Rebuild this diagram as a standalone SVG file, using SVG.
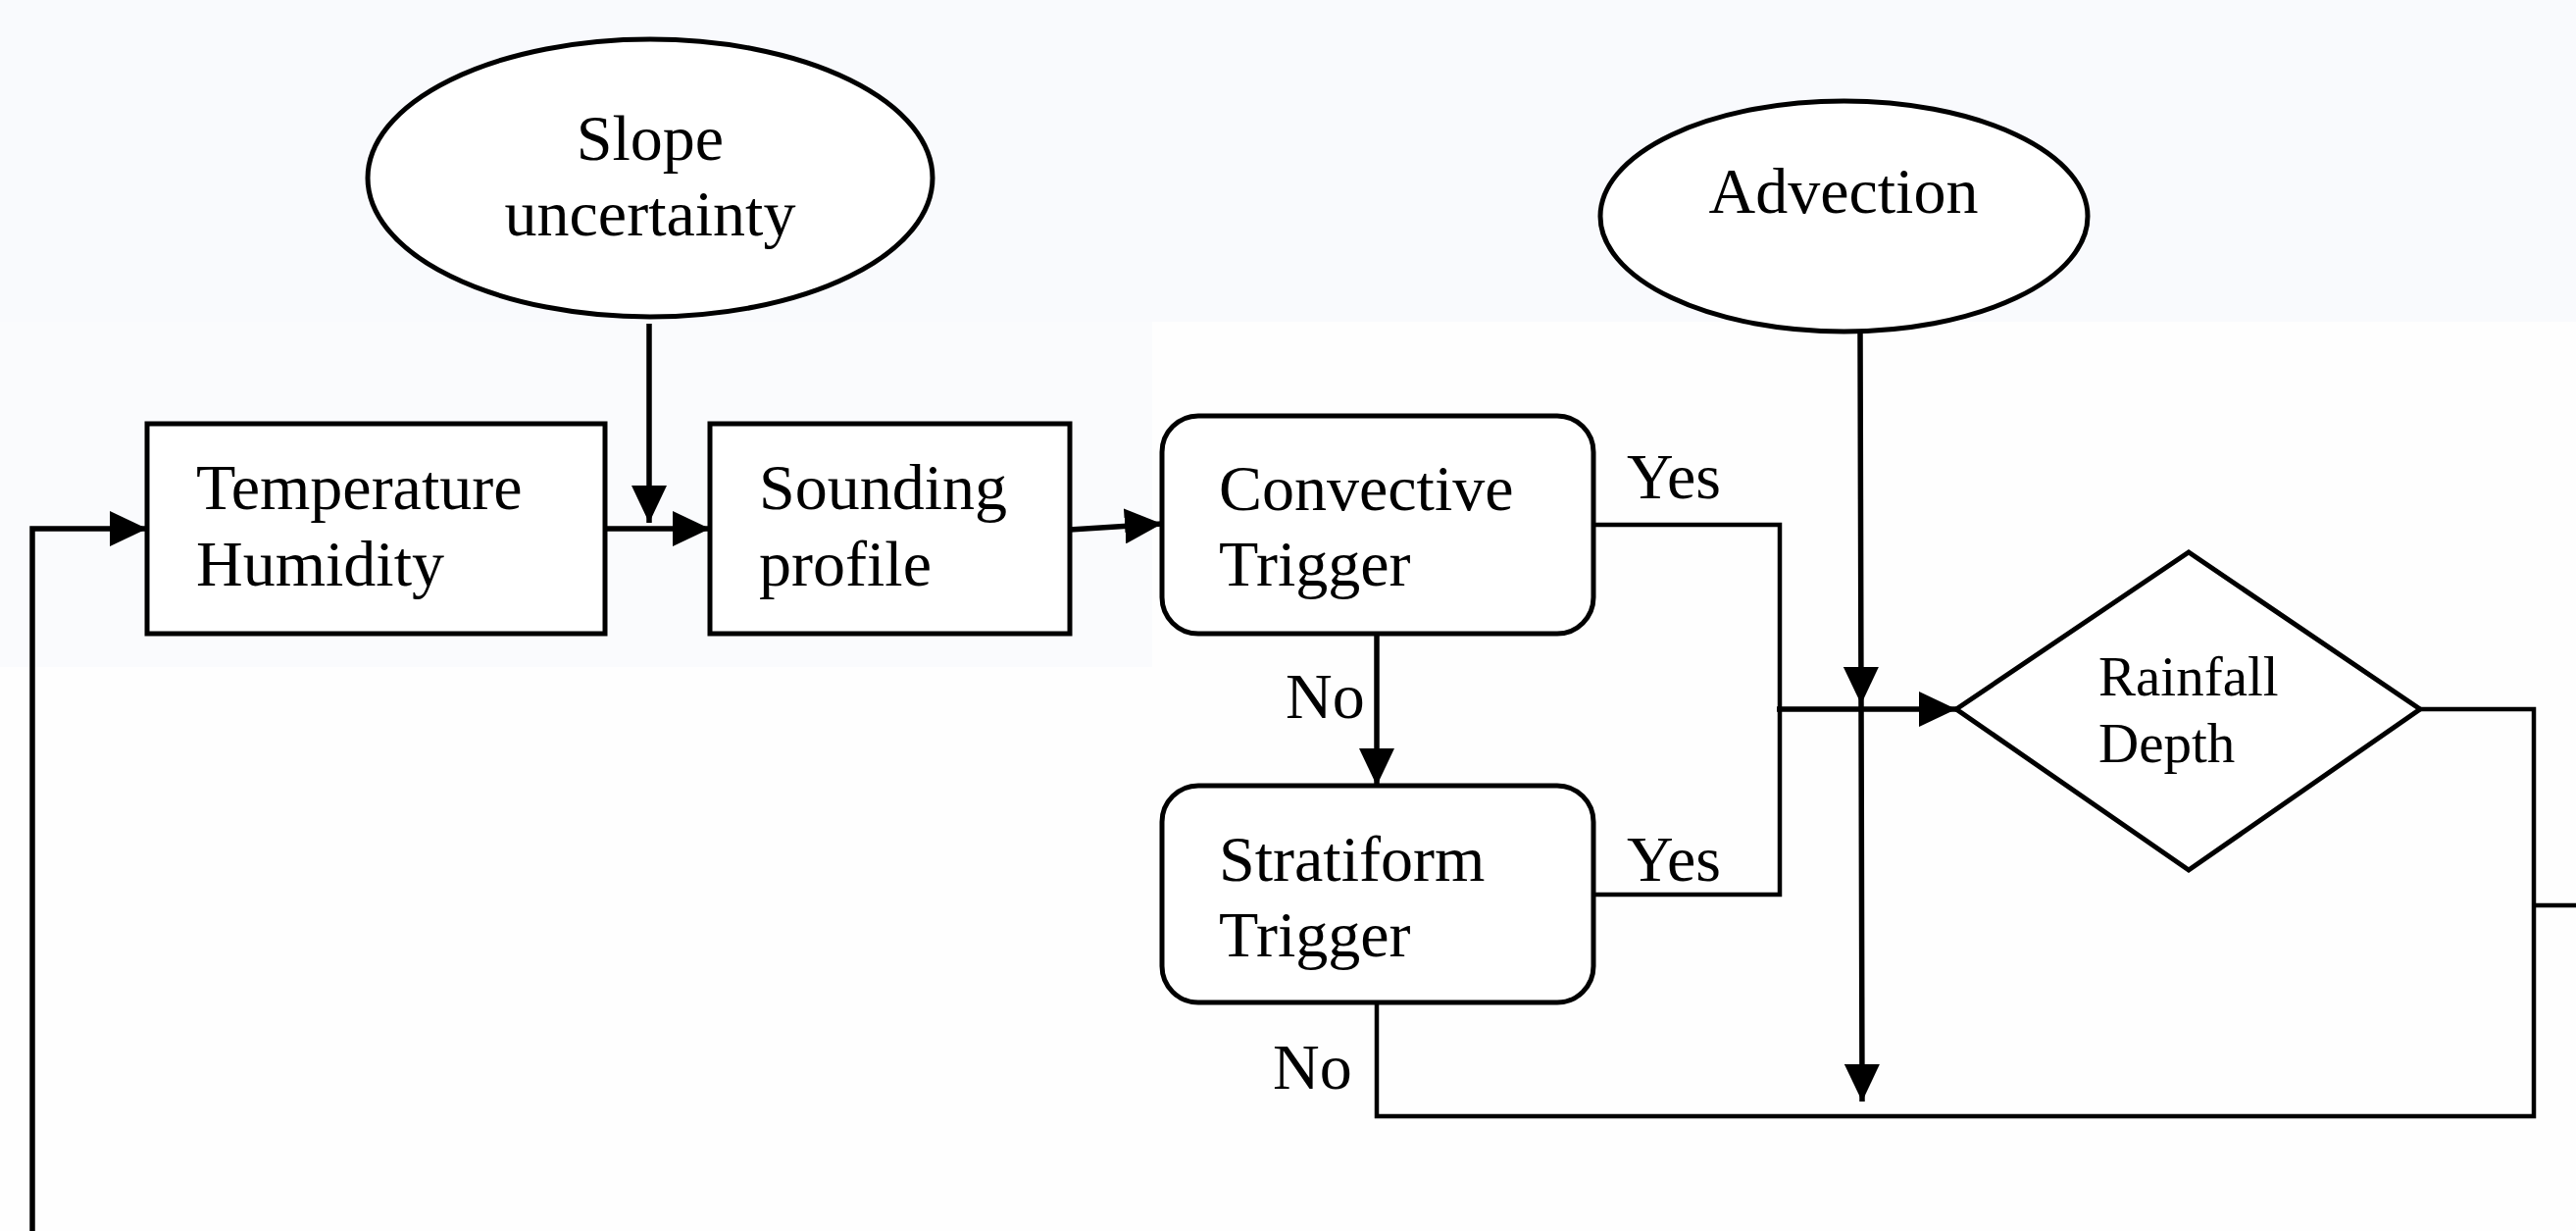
<svg xmlns="http://www.w3.org/2000/svg" width="2627" height="1255" viewBox="0 0 2627 1255">
<style>
.shape{fill:#ffffff;stroke:#000;stroke-width:5}
.t{font-family:"Liberation Serif","Times New Roman",serif;font-size:66px;fill:#000}
.ts{font-family:"Liberation Serif","Times New Roman",serif;font-size:57px;fill:#000}
.c{fill:none;stroke:#000;stroke-width:4.5;stroke-linejoin:miter}
.a{fill:none;stroke:#000;stroke-width:5.5}
</style>
<defs>
<marker id="arr" markerUnits="userSpaceOnUse" markerWidth="38" markerHeight="36" refX="38" refY="18" orient="auto">
<path d="M0,0 L38,18 L0,36 Z" fill="#000"/>
</marker>
</defs>
<rect x="0" y="0" width="2627" height="1255" fill="#fefefe"/>
<rect x="0" y="0" width="2627" height="328" fill="#f9fafd"/>
<rect x="0" y="328" width="1175" height="352" fill="#fafbfd"/>

<g id="connectors">
<path class="a" d="M33,1255 L33,539 L150,539" marker-end="url(#arr)"/>
<path class="a" d="M617,539 L724,539" marker-end="url(#arr)"/>
<path class="a" d="M662,330 L662,533" marker-end="url(#arr)"/>
<path class="a" d="M1091,540 L1185,534" marker-end="url(#arr)"/>
<path class="a" d="M1404,647 L1404,801" marker-end="url(#arr)"/>
<path class="c" d="M1625,535 L1815,535 L1815,912 L1625,912"/>
<path class="a" d="M1812,723 L1995,723" marker-end="url(#arr)"/>
<path class="a" d="M1897,338 L1898,718 L1899,1123" marker-mid="url(#arr)" marker-end="url(#arr)"/>
<path class="c" d="M2468,723 L2584,723 L2584,1138 L1404,1138 L1404,1022"/>
<path class="c" d="M2582,923 L2627,923"/>
</g>

<g id="slope">
<ellipse class="shape" cx="663" cy="181.5" rx="288" ry="141.5"/>
<text class="t" x="663" y="163" text-anchor="middle">Slope</text>
<text class="t" x="663" y="240" text-anchor="middle">uncertainty</text>
</g>

<g id="advection">
<ellipse class="shape" cx="1880.5" cy="220.5" rx="248.5" ry="117.5"/>
<text class="t" x="1880" y="217" text-anchor="middle">Advection</text>
</g>

<g id="temperature">
<rect class="shape" x="150" y="432" width="467" height="214"/>
<text class="t" x="200" y="519">Temperature</text>
<text class="t" x="200" y="597">Humidity</text>
</g>

<g id="sounding">
<rect class="shape" x="724" y="432" width="367" height="214"/>
<text class="t" x="774" y="519">Sounding</text>
<text class="t" x="774" y="597">profile</text>
</g>

<g id="convective">
<rect class="shape" x="1185" y="424" width="440" height="222" rx="37" ry="37"/>
<text class="t" x="1243" y="520">Convective</text>
<text class="t" x="1243" y="597">Trigger</text>
</g>

<g id="stratiform">
<rect class="shape" x="1185" y="801" width="440" height="221" rx="37" ry="37"/>
<text class="t" x="1243" y="898">Stratiform</text>
<text class="t" x="1243" y="975">Trigger</text>
</g>

<g id="rainfall">
<polygon class="shape" points="1995,723 2232,563 2468,723 2232,887"/>
<text class="ts" x="2140" y="709">Rainfall</text>
<text class="ts" x="2140" y="777">Depth</text>
</g>

<g id="labels">
<text class="t" x="1659" y="508">Yes</text>
<text class="t" x="1659" y="898">Yes</text>
<text class="t" x="1311" y="732">No</text>
<text class="t" x="1298" y="1110">No</text>
</g>
</svg>
